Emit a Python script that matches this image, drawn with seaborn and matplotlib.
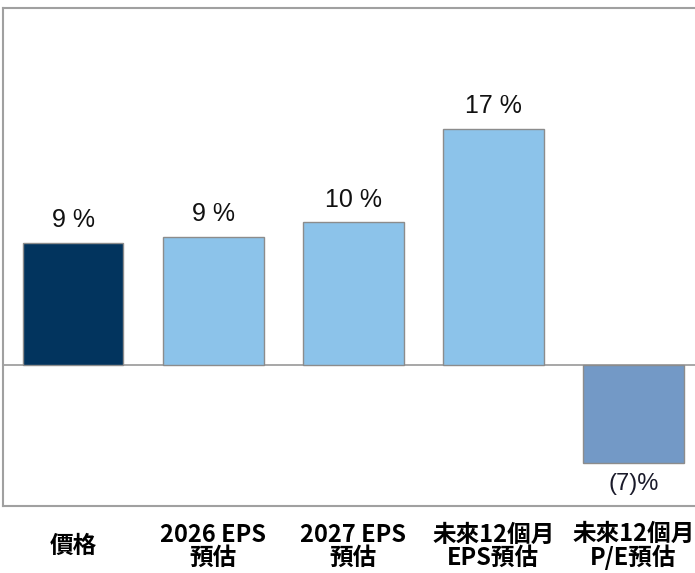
import matplotlib.pyplot as plt
import pandas as pd
import seaborn as sns

categories = ["價格", "2026 EPS\n預估", "2027 EPS\n預估", "未來12個月\nEPS預估", "未來12個月\nP/E預估"]
values = [9.0, 9.4, 10.5, 17.4, -7.2]
value_labels = ["9 %", "9 %", "10 %", "17 %", "(7)%"]
bar_colors = ["#02345e", "#8cc3ea", "#8cc3ea", "#8cc3ea", "#7399c6"]

df = pd.DataFrame({"cat": categories, "val": values})

sns.set_style("white")
plt.rcParams["font.family"] = ["Noto Sans CJK TC", "DejaVu Sans"]

fig = plt.figure(figsize=(6.95, 5.73), dpi=100)
ax = fig.add_axes([0.0043, 0.117, 0.9957, 0.869])

sns.barplot(df, x="cat", y="val", hue="cat", palette=bar_colors, legend=False,
            width=0.72, edgecolor="#8c8c8c", linewidth=1.0, saturation=1, ax=ax)

ax.axhline(0, color="#a0a0a0", linewidth=1.3, zorder=0.5)

for i, (v, lab) in enumerate(zip(values, value_labels)):
    if v >= 0:
        ax.text(i, v + 0.8, lab, ha="center", va="bottom", fontsize=18,
                family="Liberation Sans", color="#111111")
    else:
        ax.text(i, v - 0.8, lab, ha="center", va="top", fontsize=17,
                family="Liberation Sans", color="#1a1a2a")

ax.set_xlim(-0.5, 4.44)
ax.set_ylim(-10.4, 26.3)
ax.set_yticks([])
ax.set_xlabel("")
ax.set_ylabel("")
ax.tick_params(axis="x", length=0, pad=29)
for t in ax.get_xticklabels():
    t.set_fontweight("bold")
    t.set_fontsize(17)
    t.set_verticalalignment("center")
    t.set_linespacing(0.95)
    t.set_color("black")

for side in ["left", "top", "bottom"]:
    ax.spines[side].set_color("#a0a0a0")
    ax.spines[side].set_linewidth(1.5)
ax.spines["right"].set_visible(False)

fig.savefig("out.png", dpi=100)
